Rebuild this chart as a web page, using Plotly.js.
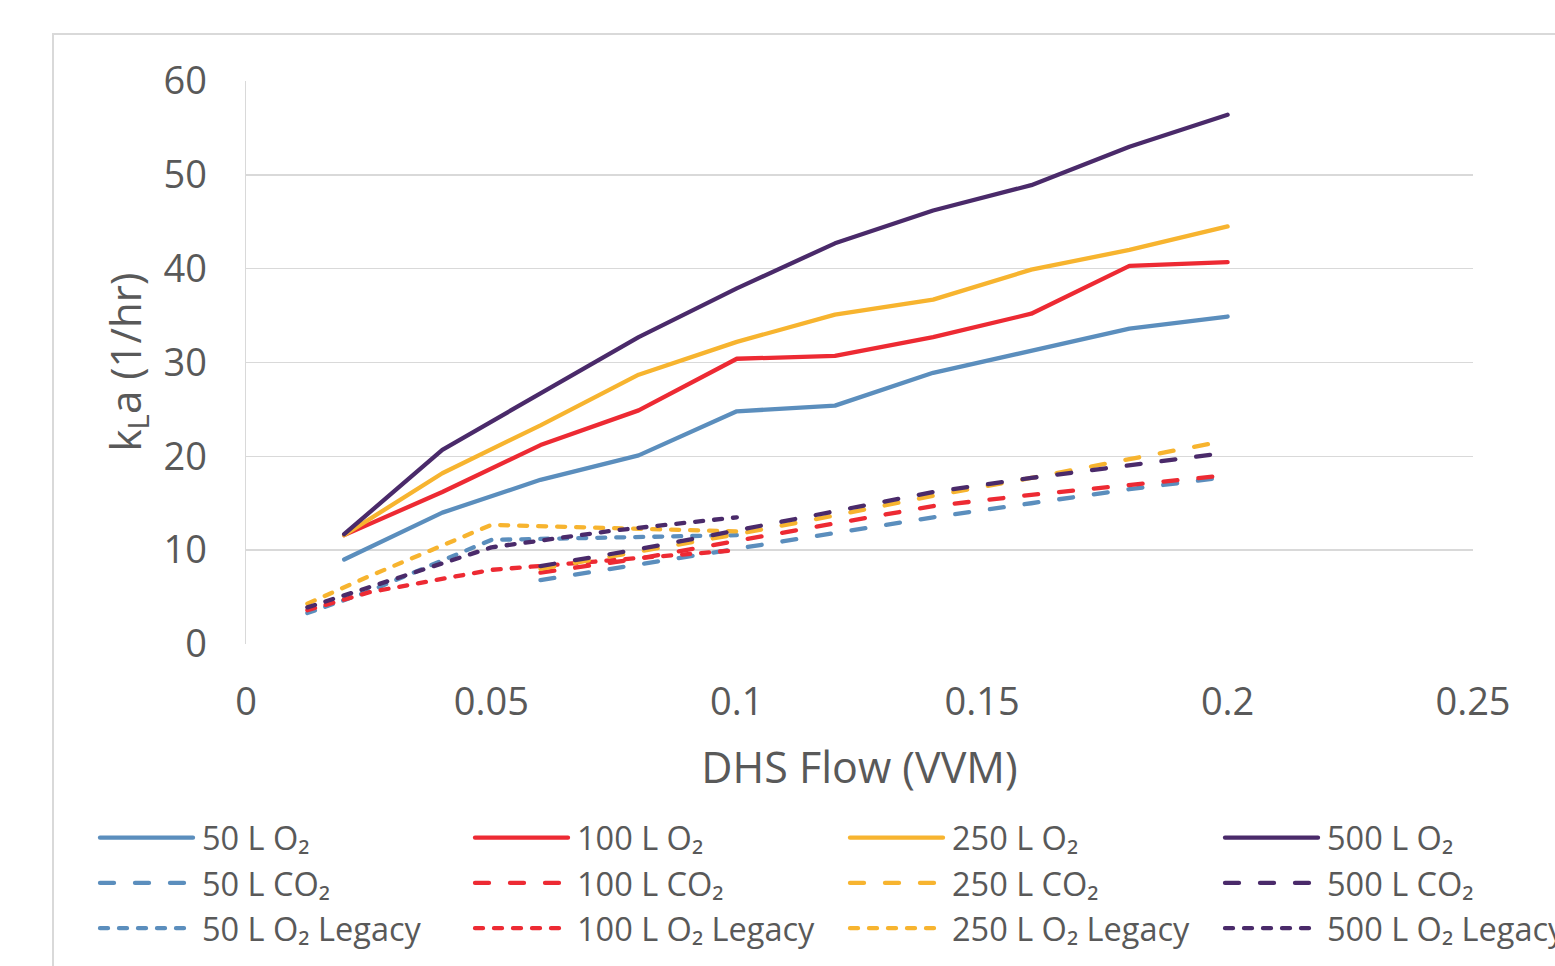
<!DOCTYPE html>
<html>
<head>
<meta charset="utf-8">
<script src="https://cdn.plot.ly/plotly-3.0.1.min.js"></script>
<style>
  html, body { margin: 0; padding: 0; background: #ffffff; overflow: hidden; }
  #frame { position: absolute; left: 52px; top: 33px; width: 1700px; height: 1100px;
           border: 2px solid #d9d9d9; box-sizing: border-box; }
  #chart { position: absolute; left: 0; top: 0; width: 1555px; height: 966px; }
  .scatterlayer .js-line, .legendlines path { stroke-linecap: round; stroke-linejoin: round; }
</style>
</head>
<body>
<div id="frame"></div>
<div id="chart"></div>
<script>
// ---- data ----
const flowO2 = [0.02, 0.04, 0.06, 0.08, 0.10, 0.12, 0.14, 0.16, 0.18, 0.20];
const o2_50  = [9.0, 14.0, 17.5, 20.1, 24.8, 25.4, 28.9, 31.3, 33.6, 34.9];
const o2_100 = [11.6, 16.2, 21.2, 24.9, 30.4, 30.7, 32.7, 35.2, 40.3, 40.7];
const o2_250 = [11.6, 18.2, 23.3, 28.7, 32.2, 35.1, 36.7, 39.9, 42.0, 44.5];
const o2_500 = [11.7, 20.7, 26.7, 32.7, 37.9, 42.7, 46.2, 48.9, 53.0, 56.4];

const flowCO2 = [0.06, 0.08, 0.10, 0.12, 0.14, 0.16, 0.18, 0.20];
const co2_50  = [6.8, 8.5, 10.2, 11.9, 13.5, 15.0, 16.5, 17.8];
const co2_100 = [7.6, 9.1, 11.0, 12.9, 14.7, 15.9, 17.0, 18.0];
const co2_250 = [8.0, 9.8, 11.7, 13.7, 15.8, 17.7, 19.7, 21.7];
const co2_500 = [8.3, 10.1, 12.1, 14.2, 16.2, 17.7, 19.1, 20.4];

const flowLegacy = [0.0125, 0.025, 0.05, 0.075, 0.10];
const leg_50  = [3.3, 5.6, 11.1, 11.3, 11.6];
const leg_100 = [3.6, 5.5, 7.9, 8.9, 10.0];
const leg_250 = [4.3, 7.2, 12.7, 12.3, 12.0];
const leg_500 = [3.9, 6.0, 10.3, 12.1, 13.5];

const seriesNames = ['50 L', '100 L', '250 L', '500 L'];
const xTickVals = [0, 0.05, 0.1, 0.15, 0.2, 0.25];
const xTickText = ['0', '0.05', '0.1', '0.15', '0.2', '0.25'];
const yTickVals = [0, 10, 20, 30, 40, 50, 60];
const xTitle = 'DHS Flow (VVM)';
const yTitle = 'k<sub>L</sub>a (1/hr)';

// ---- styles ----
const colors = ['#5B8EBD', '#ED2A33', '#F7B42F', '#4A2A6A'];
const legendIds = ['legend', 'legend2', 'legend3', 'legend4'];
const o2Sets = [o2_50, o2_100, o2_250, o2_500];
const co2Sets = [co2_50, co2_100, co2_250, co2_500];
const legSets = [leg_50, leg_100, leg_250, leg_500];

const traces = [];
for (let i = 0; i < 4; i++) {
  traces.push({
    x: flowO2, y: o2Sets[i], type: 'scatter', mode: 'lines',
    name: seriesNames[i] + ' O\u2082', legend: legendIds[i], legendrank: 1,
    line: { color: colors[i], width: 4.3 }
  });
  traces.push({
    x: flowCO2, y: co2Sets[i], type: 'scatter', mode: 'lines',
    name: seriesNames[i] + ' CO\u2082', legend: legendIds[i], legendrank: 2,
    line: { color: colors[i], width: 4.3, dash: '14px,21px' }
  });
  traces.push({
    x: flowLegacy, y: legSets[i], type: 'scatter', mode: 'lines',
    name: seriesNames[i] + ' O\u2082 Legacy', legend: legendIds[i], legendrank: 3,
    line: { color: colors[i], width: 4.3, dash: '8px,11px' }
  });
}

const textColor = '#595959';
const fontFam = 'Open Sans, DejaVu Sans, sans-serif';
const legendX = [95, 470, 845, 1220];
function legendCfg(px) {
  return {
    xref: 'container', yref: 'container',
    x: px / 1555, xanchor: 'left',
    y: 1 - 810 / 966, yanchor: 'top',
    orientation: 'v', bgcolor: 'rgba(0,0,0,0)', borderwidth: 0,
    itemwidth: 97, tracegroupgap: 0,
    font: { family: fontFam, size: 32.5, color: textColor }
  };
}

const layout = {
  width: 1555, height: 966,
  paper_bgcolor: 'rgba(0,0,0,0)', plot_bgcolor: 'rgba(0,0,0,0)',
  margin: { l: 246, r: 82, t: 81, b: 322, autoexpand: false },
  font: { family: fontFam, color: textColor },
  showlegend: true,
  legend: legendCfg(legendX[0]),
  legend2: legendCfg(legendX[1]),
  legend3: legendCfg(legendX[2]),
  legend4: legendCfg(legendX[3]),
  xaxis: {
    range: [0, 0.25], tickvals: xTickVals, ticktext: xTickText,
    showgrid: false, zeroline: false, showline: false, ticks: '',
    ticklabelstandoff: 32,
    tickfont: { size: 38, color: textColor },
    title: { text: xTitle, font: { size: 43, color: textColor } }
  },
  yaxis: {
    range: [0, 60], tickvals: yTickVals,
    showgrid: true, gridcolor: '#d9d9d9', gridwidth: 1.5,
    zeroline: false, showline: true, linecolor: '#d9d9d9', linewidth: 1.5, ticks: '',
    ticklabelstandoff: 30,
    tickfont: { size: 38, color: textColor }
  },
  annotations: [{
    text: yTitle, textangle: -90, showarrow: false,
    xref: 'paper', yref: 'paper', x: (127 - 246) / 1227, y: 0.5,
    xanchor: 'center', yanchor: 'middle',
    font: { family: fontFam, size: 42, color: textColor }
  }]
};

Plotly.newPlot('chart', traces, layout, { displayModeBar: false, staticPlot: true }).then(function () {
  document.querySelectorAll('.legendlines path').forEach(function (p) {
    p.setAttribute('d', 'M5,0h93');
  });
});
</script>
</body>
</html>
